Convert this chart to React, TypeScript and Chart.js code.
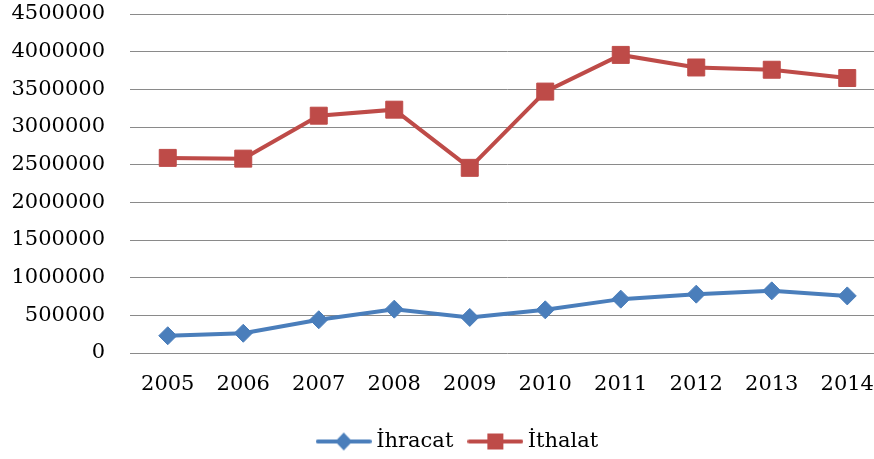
import React, { useEffect, useRef } from "react";
import { Chart, registerables } from "chart.js";
Chart.register(...registerables);

const years = ["2005", "2006", "2007", "2008", "2009", "2010", "2011", "2012", "2013", "2014"];
const ihracat = [229000, 262000, 441000, 582000, 472000, 573000, 715000, 781000, 825000, 758000];
const ithalat = [2590000, 2580000, 3150000, 3230000, 2458000, 3470000, 3957000, 3790000, 3760000, 3650000];
const seriesNames = ["İhracat", "İthalat"];
const yMax = 4500000;
const yStep = 500000;

const BLUE = "#4A7EBB";
const RED = "#BE4B48";
const FONT = "DejaVu Serif";

function makeLegendIcon(color: string, shape: "diamond" | "square") {
  const c = document.createElement("canvas");
  c.width = 56;
  c.height = 20;
  const ctx = c.getContext("2d")!;
  ctx.strokeStyle = color;
  ctx.lineWidth = 4;
  ctx.lineCap = "round";
  ctx.beginPath();
  ctx.moveTo(2, 10);
  ctx.lineTo(54, 10);
  ctx.stroke();
  ctx.fillStyle = color;
  if (shape === "diamond") {
    ctx.beginPath();
    ctx.moveTo(28, 1);
    ctx.lineTo(36.5, 10);
    ctx.lineTo(28, 19);
    ctx.lineTo(19.5, 10);
    ctx.closePath();
    ctx.fill();
  } else {
    ctx.fillRect(20, 2, 16, 16);
  }
  return c;
}

const legendShift = {
  id: "legendShift",
  afterLayout(chart: any) {
    const lg = chart.legend;
    if (!lg) return;
    const center = (lg.left + lg.right) / 2;
    const d = 460 - center;
    lg.left += d;
    lg.right += d;
  },
};

export default function App() {
  const ref = useRef<HTMLCanvasElement | null>(null);
  useEffect(() => {
    if (!ref.current) return;
    const icons = [makeLegendIcon(BLUE, "diamond"), makeLegendIcon(RED, "square")];
    const chart = new Chart(ref.current, {
      type: "line",
      data: {
        labels: years,
        datasets: [
          {
            label: seriesNames[0],
            data: ihracat,
            borderColor: BLUE,
            backgroundColor: BLUE,
            borderWidth: 4,
            pointStyle: "rectRot",
            pointRadius: 9,
            pointBorderWidth: 1,
            tension: 0,
          },
          {
            label: seriesNames[1],
            data: ithalat,
            borderColor: RED,
            backgroundColor: RED,
            borderWidth: 4,
            pointStyle: "rect",
            pointRadius: 12,
            pointBorderWidth: 1,
            tension: 0,
          },
        ],
      },
      plugins: [legendShift],
      options: {
        responsive: false,
        animation: false,
        devicePixelRatio: 1,
        layout: { padding: { left: 0, right: 0, top: 14, bottom: -3 } },
        plugins: {
          tooltip: { enabled: false },
          legend: {
            position: "bottom",
            labels: {
              usePointStyle: true,
              pointStyleWidth: 44,
              padding: 20,
              color: "#000",
              font: { family: FONT, size: 21 },
              generateLabels: () =>
                seriesNames.map((n, i) => ({
                  text: n,
                  pointStyle: icons[i] as any,
                  fillStyle: i === 0 ? BLUE : RED,
                  strokeStyle: i === 0 ? BLUE : RED,
                  lineWidth: 0,
                  hidden: false,
                  datasetIndex: i,
                  fontColor: "#000",
                })),
            },
          },
        },
        scales: {
          x: {
            offset: true,
            grid: {
              display: true,
              drawOnChartArea: false,
              drawTicks: true,
              tickLength: 19,
              tickColor: "rgba(0,0,0,0)",
              color: "rgba(0,0,0,0)",
            },
            border: { display: false },
            ticks: { color: "#000", padding: 0, font: { family: FONT, size: 21 }, maxRotation: 0 },
            afterFit: (s: any) => {
              s.height = 58;
            },
          },
          y: {
            min: 0,
            max: yMax,
            grid: { color: "#8A8A8A", lineWidth: 1, drawTicks: true, tickLength: 25, tickColor: "rgba(0,0,0,0)" },
            border: { display: false },
            ticks: {
              stepSize: yStep,
              color: "#000",
              padding: 0,
              font: { family: FONT, size: 21 },
              callback: (v: any) => String(v),
            },
            afterFit: (s: any) => {
              s.width = 130;
            },
          },
        },
      },
    });
    return () => chart.destroy();
  }, []);
  return (
    <div style={{ position: "fixed", left: 0, top: 0, width: 874, height: 459, overflow: "hidden", background: "#fff" }}>
      <canvas ref={ref} width={898} height={459} style={{ display: "block" }} />
    </div>
  );
}
